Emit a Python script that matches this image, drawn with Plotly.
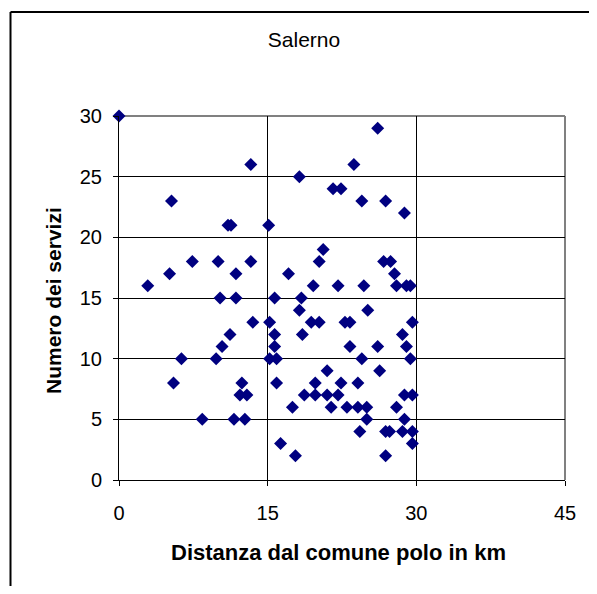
import plotly.graph_objects as go

# distance from the "comune polo" (km) and number of services, Salerno
distanza = [
    0, 5.3, 13.3, 11.0, 11.3, 15.1, 2.9, 5.1, 7.4, 10.0, 11.8, 13.3,
    10.2, 11.8, 13.5, 15.2, 11.2, 10.4, 6.3, 9.8, 15.2, 5.5, 12.4, 12.2,
    12.9, 8.4, 11.6, 12.7,
    26.1, 23.7, 18.2, 21.6, 22.4, 24.5, 26.9, 28.8, 20.6, 20.2, 17.1, 19.6,
    22.1, 24.7, 26.7, 27.4, 27.8, 28.0, 29.0, 29.4, 15.7, 18.4, 18.2, 25.1,
    19.4, 20.2, 22.8, 23.3, 29.6, 15.7, 18.5, 28.6, 15.7, 23.3, 26.1, 29.0,
    15.9, 24.5, 29.4, 21.0, 26.3, 15.9, 19.8, 22.4, 24.1, 18.7, 19.8, 21.0,
    22.1, 28.8, 29.6, 17.5, 21.4, 23.0, 24.1, 25.0, 28.0, 25.0, 28.8, 24.3,
    26.9, 27.3, 28.6, 29.6, 29.6, 16.3, 17.8, 26.9,
]
servizi = [
    30, 23, 26, 21, 21, 21, 16, 17, 18, 18, 17, 18,
    15, 15, 13, 13, 12, 11, 10, 10, 10, 8, 8, 7,
    7, 5, 5, 5,
    29, 26, 25, 24, 24, 23, 23, 22, 19, 18, 17, 16,
    16, 16, 18, 18, 17, 16, 16, 16, 15, 15, 14, 14,
    13, 13, 13, 13, 13, 12, 12, 12, 11, 11, 11, 11,
    10, 10, 10, 9, 9, 8, 8, 8, 8, 7, 7, 7,
    7, 7, 7, 6, 6, 6, 6, 6, 6, 5, 5, 4,
    4, 4, 4, 4, 3, 3, 2, 2,
]
x_ticks = [0, 15, 30, 45]
y_ticks = [0, 5, 10, 15, 20, 25, 30]

# the page body has an 8px margin, so the figure is laid out smaller
# (height kept short enough that the page gets no scrollbar)
W, H = 589, 578
L, R, T, B = 111, 32, 108, 106
pw, ph = W - L - R, H - T - B


def px_x(p):
    return (p - L) / pw


def px_y(p):
    return (H - B - p) / ph


fig = go.Figure(go.Scatter(
    x=distanza, y=servizi, mode='markers',
    marker=dict(symbol='diamond', size=10, color='#000080', line_width=0),
    cliponaxis=False, showlegend=False,
))

axis_common = dict(
    showgrid=True, gridcolor='black', gridwidth=1,
    showline=True, linecolor='black', linewidth=1,
    ticks='outside', ticklen=5, tickcolor='black',
    zeroline=False, tickfont=dict(size=20, color='black'),
)

frame = dict(color='black', width=2)

fig.update_layout(
    width=W, height=H,
    margin=dict(l=L, r=R, t=T, b=B),
    paper_bgcolor='white', plot_bgcolor='white',
    font=dict(family='Liberation Sans, Arial, sans-serif', color='black'),
    title=dict(text='Salerno', x=296 / W, xref='container', xanchor='center',
               y=1 - 32 / H, yref='container', yanchor='middle',
               font=dict(size=21, color='black')),
    xaxis=dict(range=[0, 45], tickvals=x_ticks, ticklabelstandoff=10, **axis_common),
    yaxis=dict(range=[0, 30], tickvals=y_ticks, ticklabelstandoff=7, **axis_common),
    shapes=[
        # grey plot-area border on top and right
        dict(type='line', xref='paper', yref='paper', x0=0, x1=1, y0=1, y1=1,
             line=dict(color='#808080', width=2), layer='between'),
        dict(type='line', xref='paper', yref='paper', x0=1, x1=1, y0=0, y1=1,
             line=dict(color='#808080', width=2), layer='between'),
        # outer chart frame (bottom edge falls outside the picture)
        dict(type='line', xref='paper', yref='paper', x0=px_x(2.5), x1=px_x(587),
             y0=px_y(4), y1=px_y(4), line=frame, layer='above'),
        dict(type='line', xref='paper', yref='paper', x0=px_x(2.5), x1=px_x(2.5),
             y0=px_y(4), y1=px_y(H), line=frame, layer='above'),
        dict(type='line', xref='paper', yref='paper', x0=px_x(587), x1=px_x(587),
             y0=px_y(4), y1=px_y(H), line=frame, layer='above'),
    ],
    annotations=[
        dict(text='<b>Distanza dal comune polo in km</b>', xref='paper', yref='paper',
             x=px_x(330), y=px_y(544), showarrow=False, font=dict(size=22, color='black'),
             xanchor='center', yanchor='middle'),
        dict(text='<b>Numero dei servizi</b>', xref='paper', yref='paper',
             x=px_x(45), y=px_y(293), showarrow=False, textangle=-90,
             font=dict(size=21, color='black'), xanchor='center', yanchor='middle'),
    ],
)

fig.write_html("out.html")
